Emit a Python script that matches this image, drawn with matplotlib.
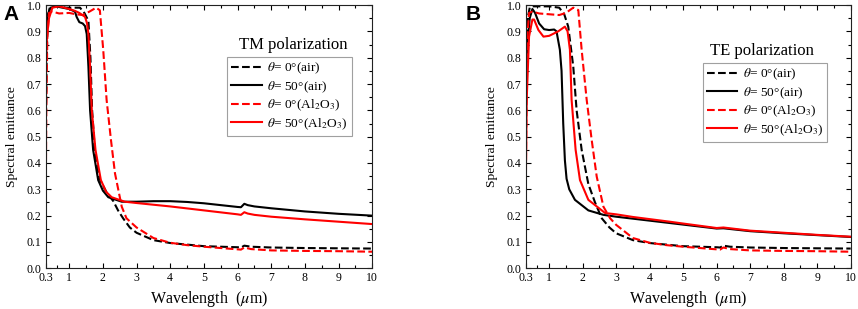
import matplotlib
matplotlib.use("Agg")
import matplotlib.pyplot as plt
import numpy as np

plt.rcParams['font.family'] = ['Liberation Serif', 'DejaVu Serif']
plt.rcParams['mathtext.fontset'] = 'stix'

# ---- panel A: TM polarization ----
wl_tm_0_air = [0.30, 0.33, 0.36, 0.42, 0.5, 0.7, 0.9, 1.1, 1.32, 1.45, 1.57, 1.63, 1.68, 1.76, 1.9,
               2.1, 2.31, 2.45, 2.6, 2.8, 3.0, 3.5, 4.0, 5.0, 6.0, 6.1, 6.2, 6.4, 7.0, 8.0, 9.0, 10.0]
em_tm_0_air = [0.50, 0.80, 0.95, 0.99, 0.995, 0.995, 0.99, 0.99, 0.99, 0.97, 0.94, 0.80, 0.60, 0.45, 0.34,
               0.29, 0.255, 0.22, 0.19, 0.155, 0.135, 0.107, 0.096, 0.084, 0.080, 0.079, 0.086, 0.082,
               0.079, 0.077, 0.076, 0.075]

wl_tm_50_air = [0.30, 0.35, 0.45, 0.6, 0.8, 1.0, 1.17, 1.22, 1.3, 1.4, 1.47, 1.52, 1.57, 1.62, 1.71,
                1.86, 2.0, 2.16, 2.56, 3.0, 3.5, 4.0, 4.5, 5.0, 5.5, 6.0, 6.1, 6.2, 6.3, 6.5,
                7.0, 8.0, 9.0, 10.0]
em_tm_50_air = [0.88, 0.96, 0.99, 0.995, 0.99, 0.985, 0.975, 0.955, 0.935, 0.93, 0.92, 0.89, 0.766, 0.60, 0.45,
                0.335, 0.295, 0.27, 0.253, 0.253, 0.255, 0.255, 0.252, 0.247, 0.240, 0.233, 0.232, 0.245, 0.240,
                0.235, 0.228, 0.216, 0.207, 0.200]

wl_tm_0_al = [0.30, 0.32, 0.35, 0.40, 0.5, 0.7, 1.0, 1.2, 1.4, 1.6, 1.8, 1.91, 2.01, 2.11, 2.24,
              2.36, 2.56, 2.7, 3.0, 3.5, 4.0, 4.5, 5.0, 5.5, 6.0, 6.1, 6.2, 6.4, 7.0, 8.0, 9.0, 10.0]
em_tm_0_al = [0.20, 0.60, 0.88, 0.97, 0.975, 0.968, 0.97, 0.965, 0.962, 0.975, 0.99, 0.98, 0.83, 0.64, 0.487,
              0.36, 0.234, 0.19, 0.155, 0.115, 0.097, 0.088, 0.082, 0.077, 0.072, 0.071, 0.079, 0.073,
              0.068, 0.066, 0.065, 0.063]

wl_tm_50_al = [0.30, 0.34, 0.40, 0.5, 0.7, 1.0, 1.17, 1.3, 1.47, 1.53, 1.57, 1.62, 1.67, 1.78, 1.94,
               2.1, 2.26, 2.65, 3.0, 4.0, 5.0, 6.0, 6.1, 6.2, 6.3, 6.5, 7.0, 8.0, 9.0, 10.0]
em_tm_50_al = [0.75, 0.88, 0.95, 0.99, 0.995, 0.985, 0.978, 0.97, 0.955, 0.93, 0.89, 0.766, 0.60, 0.45, 0.335,
               0.29, 0.27, 0.253, 0.248, 0.235, 0.220, 0.205, 0.203, 0.213, 0.208, 0.203, 0.196, 0.186,
               0.177, 0.168]

# ---- panel B: TE polarization ----
wl_te_0_air = [0.30, 0.33, 0.36, 0.42, 0.5, 0.7, 1.0, 1.3, 1.45, 1.57, 1.72, 1.82, 1.97, 2.17, 2.37,
               2.57, 2.8, 3.0, 3.5, 4.0, 5.0, 6.0, 6.1, 6.2, 6.4, 7.0, 8.0, 9.0, 10.0]
em_te_0_air = [0.50, 0.80, 0.95, 0.99, 0.995, 0.995, 0.995, 0.99, 0.965, 0.918, 0.766, 0.60, 0.45, 0.32, 0.25,
               0.19, 0.155, 0.133, 0.107, 0.096, 0.084, 0.080, 0.079, 0.086, 0.082, 0.079, 0.077, 0.076, 0.075]

wl_te_50_air = [0.30, 0.35, 0.42, 0.5, 0.58, 0.7, 0.85, 1.0, 1.15, 1.22, 1.32, 1.37, 1.42, 1.47, 1.52,
                1.6, 1.77, 2.17, 2.62, 3.0, 4.0, 5.0, 6.0, 6.2, 7.0, 8.0, 9.0, 10.0]
em_te_50_air = [0.60, 0.85, 0.95, 0.985, 0.97, 0.93, 0.908, 0.905, 0.907, 0.90, 0.83, 0.75, 0.55, 0.41, 0.34,
                0.30, 0.26, 0.22, 0.203, 0.196, 0.181, 0.166, 0.151, 0.152, 0.141, 0.133, 0.126, 0.119]

wl_te_0_al = [0.30, 0.32, 0.35, 0.40, 0.5, 0.7, 1.0, 1.3, 1.5, 1.72, 1.87, 1.97, 2.12, 2.27, 2.42,
              2.62, 2.82, 3.0, 3.5, 4.0, 4.5, 5.0, 5.5, 6.0, 6.1, 6.2, 6.4, 7.0, 8.0, 9.0, 10.0]
em_te_0_al = [0.20, 0.60, 0.88, 0.97, 0.975, 0.968, 0.965, 0.962, 0.97, 0.99, 0.981, 0.83, 0.64, 0.487, 0.348,
              0.234, 0.19, 0.165, 0.115, 0.097, 0.088, 0.082, 0.077, 0.072, 0.071, 0.079, 0.073,
              0.068, 0.066, 0.065, 0.063]

wl_te_50_al = [0.30, 0.33, 0.40, 0.5, 0.55, 0.68, 0.83, 1.0, 1.27, 1.47, 1.55, 1.62, 1.67, 1.79, 1.92,
               2.17, 2.67, 3.0, 3.5, 4.6, 5.0, 6.0, 6.2, 7.0, 8.0, 9.0, 10.0]
em_te_50_al = [0.30, 0.64, 0.88, 0.945, 0.945, 0.905, 0.88, 0.883, 0.90, 0.918, 0.90, 0.83, 0.64, 0.45, 0.335,
               0.26, 0.21, 0.205, 0.195, 0.177, 0.170, 0.153, 0.155, 0.143, 0.135, 0.127, 0.120]

labels = [r'$\theta$= 0°(air)', r'$\theta$= 50°(air)',
          r'$\theta$= 0°(Al$_2$O$_3$)', r'$\theta$= 50°(Al$_2$O$_3$)']
xticks = [0.3, 1, 2, 3, 4, 5, 6, 7, 8, 9, 10]
xticklabels = ['0.3', '1', '2', '3', '4', '5', '6', '7', '8', '9', '10']
xminor = [0.65, 1.5, 2.5, 3.5, 4.5, 5.5, 6.5, 7.5, 8.5, 9.5]
yticks = np.round(np.arange(0, 1.01, 0.1), 1)

fig = plt.figure(figsize=(8.58, 3.09), dpi=100)
axA = fig.add_axes([0.0532, 0.1317, 0.3807, 0.852])
axB = fig.add_axes([0.6127, 0.1317, 0.3788, 0.852])

panels = [
    (axA, [(wl_tm_0_air, em_tm_0_air), (wl_tm_50_air, em_tm_50_air),
           (wl_tm_0_al, em_tm_0_al), (wl_tm_50_al, em_tm_50_al)],
     'TM polarization', (0.9375, 0.8025), (0.757, 0.848)),
    (axB, [(wl_te_0_air, em_te_0_air), (wl_te_50_air, em_te_50_air),
           (wl_te_0_al, em_te_0_al), (wl_te_50_al, em_te_50_al)],
     'TE polarization', (0.927, 0.78), (0.727, 0.825)),
]
styles = [('--', 'black'), ('-', 'black'), ('--', 'red'), ('-', 'red')]

for ax, curves, title, lpos, tpos in panels:
    for (wl, em), (ls, c), lab in zip(curves, styles, labels):
        ax.plot(wl, em, ls, color=c, lw=1.5, label=lab)
    ax.set_xlim(0.3, 10)
    ax.set_ylim(0, 1.0)
    ax.set_xticks(xticks)
    ax.set_xticklabels(xticklabels)
    ax.set_xticks(xminor, minor=True)
    ax.set_yticks(yticks)
    ax.set_yticks(np.arange(0.05, 1.0, 0.1), minor=True)
    ax.set_yticklabels(['%.1f' % v for v in yticks])
    ax.tick_params(which='both', direction='in', top=True, right=True, labelsize=8.5, pad=3)
    ax.tick_params(which='major', length=3.5, width=0.8)
    ax.tick_params(which='minor', length=2, width=0.8)
    for sp in ax.spines.values():
        sp.set_color('#222222')
    ax.set_xlabel(r'Wavelength  ($\mu$m)', fontsize=11.5, labelpad=3)
    ax.set_ylabel('Spectral emittance', fontsize=9.7, labelpad=6)
    leg = ax.legend(loc='upper right', bbox_to_anchor=lpos, borderaxespad=0, fontsize=9.6,
                    fancybox=False, edgecolor='#888888', handlelength=2.3, labelspacing=0.22,
                    borderpad=0.3, handletextpad=0.4)
    leg.get_frame().set_linewidth(0.8)
    ax.text(tpos[0], tpos[1], title, transform=ax.transAxes, ha='center', va='center', fontsize=12)

fig.text(0.004, 0.985, 'A', fontsize=15, fontweight='bold', family='Liberation Sans', va='top')
fig.text(0.543, 0.985, 'B', fontsize=15, fontweight='bold', family='Liberation Sans', va='top')

fig.savefig('out.png', dpi=100)
